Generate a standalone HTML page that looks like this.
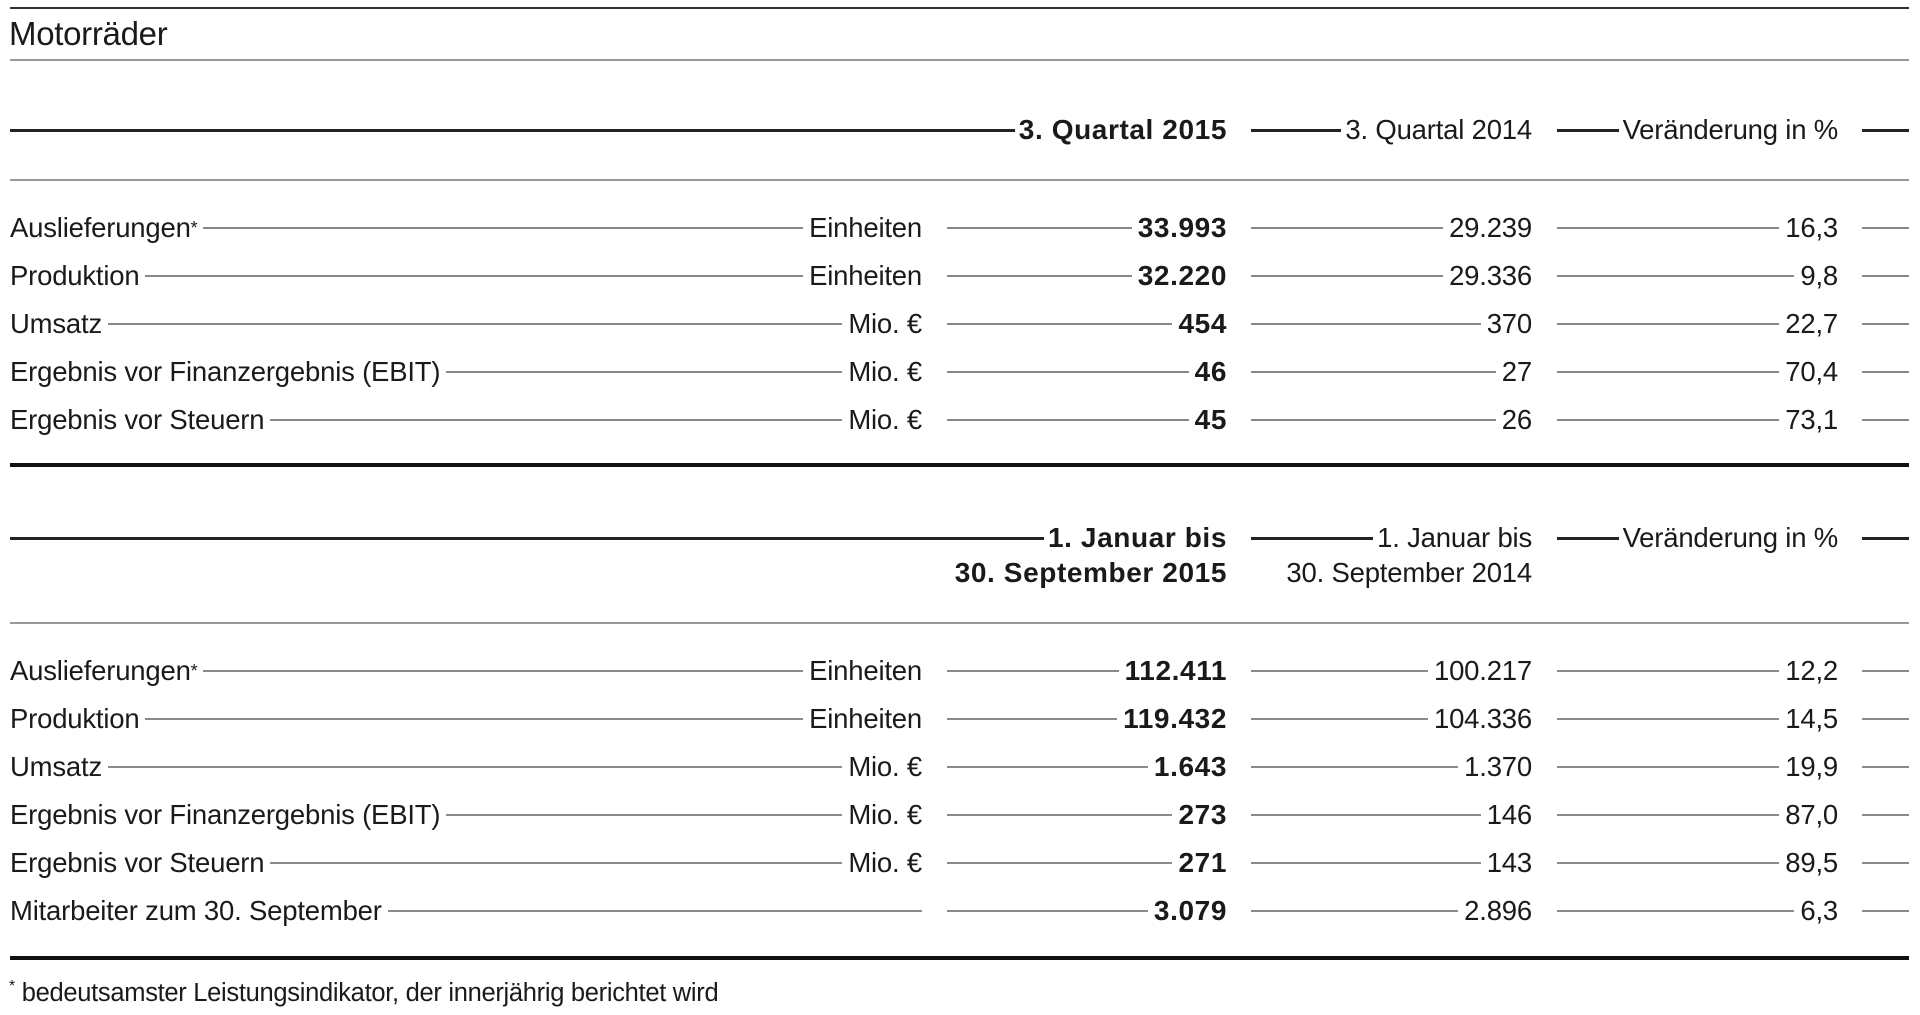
<!DOCTYPE html>
<html><head><meta charset="utf-8"><style>
body{margin:0;background:#fff;width:1920px;height:1015px;position:relative;overflow:hidden;font-family:"Liberation Sans Narrow","Liberation Sans",sans-serif;color:#1a1a1a;font-size:27.5px;letter-spacing:-0.2px}
.h{position:absolute;left:10px;width:1899px}
.row{position:absolute;height:30px;line-height:30px;display:flex;align-items:center;white-space:nowrap}
.l{flex:1;min-width:0;height:1.5px;background:#8a8a8a;margin:0 6px}
.tl{flex:1;min-width:0;height:3px;background:#222;margin:0 4px 0 0}
b{font-weight:bold;font-size:28px;letter-spacing:0.6px}
sup{font-size:18px;vertical-align:10px;line-height:0}
</style></head><body>
<div class="h" style="top:7px;height:2px;background:#333"></div>
<div style="position:absolute;left:9px;top:15px;font-size:33px;line-height:38px;letter-spacing:-0.3px">Motorräder</div>
<div class="h" style="top:59px;height:2px;background:#999"></div>

<div class="row" style="left:10px;width:1217px;top:115px"><div class="tl"></div><b>3. Quartal 2015</b></div>
<div class="row" style="left:1251px;width:281px;top:115px"><div class="tl"></div>3. Quartal 2014</div>
<div class="row" style="left:1557px;width:281px;top:115px"><div class="tl"></div>Veränderung in %</div>
<div class="row" style="left:1862px;width:47px;top:115px"><div class="tl" style="margin:0"></div></div>
<div class="h" style="top:179px;height:2px;background:#999"></div>

<div class="h" style="top:463px;height:4px;background:#111"></div>

<div class="row" style="left:10px;width:1217px;top:523px"><div class="tl"></div><b>1. Januar bis</b></div>
<div class="row" style="left:1251px;width:281px;top:523px"><div class="tl"></div>1. Januar bis</div>
<div class="row" style="left:1557px;width:281px;top:523px"><div class="tl"></div>Veränderung in %</div>
<div class="row" style="left:1862px;width:47px;top:523px"><div class="tl" style="margin:0"></div></div>
<div class="row" style="left:860px;width:367px;top:558px;justify-content:flex-end"><b>30. September 2015</b></div>
<div class="row" style="left:1221px;width:311px;top:558px;justify-content:flex-end">30. September 2014</div>
<div class="h" style="top:622px;height:2px;background:#999"></div>

<div class="h" style="top:956px;height:4px;background:#111"></div>
<div style="position:absolute;left:9px;top:978px;font-size:25.5px;line-height:30px;letter-spacing:-0.3px"><sup style="font-size:16px">*</sup> bedeutsamster Leistungsindikator, der innerjährig berichtet wird</div>

<div class="row" style="left:10px;width:912px;top:213px">Auslieferungen<sup>*</sup><div class="l"></div>Einheiten</div>
<div class="row" style="left:947px;width:280px;top:213px"><div class="l" style="margin-left:0"></div><b>33.993</b></div>
<div class="row" style="left:1251px;width:281px;top:213px"><div class="l" style="margin-left:0"></div>29.239</div>
<div class="row" style="left:1557px;width:281px;top:213px"><div class="l" style="margin-left:0"></div>16,3</div>
<div class="row" style="left:1862px;width:47px;top:213px"><div class="l" style="margin:0"></div></div>

<div class="row" style="left:10px;width:912px;top:261px">Produktion<div class="l"></div>Einheiten</div>
<div class="row" style="left:947px;width:280px;top:261px"><div class="l" style="margin-left:0"></div><b>32.220</b></div>
<div class="row" style="left:1251px;width:281px;top:261px"><div class="l" style="margin-left:0"></div>29.336</div>
<div class="row" style="left:1557px;width:281px;top:261px"><div class="l" style="margin-left:0"></div>9,8</div>
<div class="row" style="left:1862px;width:47px;top:261px"><div class="l" style="margin:0"></div></div>

<div class="row" style="left:10px;width:912px;top:309px">Umsatz<div class="l"></div>Mio. €</div>
<div class="row" style="left:947px;width:280px;top:309px"><div class="l" style="margin-left:0"></div><b>454</b></div>
<div class="row" style="left:1251px;width:281px;top:309px"><div class="l" style="margin-left:0"></div>370</div>
<div class="row" style="left:1557px;width:281px;top:309px"><div class="l" style="margin-left:0"></div>22,7</div>
<div class="row" style="left:1862px;width:47px;top:309px"><div class="l" style="margin:0"></div></div>

<div class="row" style="left:10px;width:912px;top:357px">Ergebnis vor Finanzergebnis (EBIT)<div class="l"></div>Mio. €</div>
<div class="row" style="left:947px;width:280px;top:357px"><div class="l" style="margin-left:0"></div><b>46</b></div>
<div class="row" style="left:1251px;width:281px;top:357px"><div class="l" style="margin-left:0"></div>27</div>
<div class="row" style="left:1557px;width:281px;top:357px"><div class="l" style="margin-left:0"></div>70,4</div>
<div class="row" style="left:1862px;width:47px;top:357px"><div class="l" style="margin:0"></div></div>

<div class="row" style="left:10px;width:912px;top:405px">Ergebnis vor Steuern<div class="l"></div>Mio. €</div>
<div class="row" style="left:947px;width:280px;top:405px"><div class="l" style="margin-left:0"></div><b>45</b></div>
<div class="row" style="left:1251px;width:281px;top:405px"><div class="l" style="margin-left:0"></div>26</div>
<div class="row" style="left:1557px;width:281px;top:405px"><div class="l" style="margin-left:0"></div>73,1</div>
<div class="row" style="left:1862px;width:47px;top:405px"><div class="l" style="margin:0"></div></div>

<div class="row" style="left:10px;width:912px;top:656px">Auslieferungen<sup>*</sup><div class="l"></div>Einheiten</div>
<div class="row" style="left:947px;width:280px;top:656px"><div class="l" style="margin-left:0"></div><b>112.411</b></div>
<div class="row" style="left:1251px;width:281px;top:656px"><div class="l" style="margin-left:0"></div>100.217</div>
<div class="row" style="left:1557px;width:281px;top:656px"><div class="l" style="margin-left:0"></div>12,2</div>
<div class="row" style="left:1862px;width:47px;top:656px"><div class="l" style="margin:0"></div></div>

<div class="row" style="left:10px;width:912px;top:704px">Produktion<div class="l"></div>Einheiten</div>
<div class="row" style="left:947px;width:280px;top:704px"><div class="l" style="margin-left:0"></div><b>119.432</b></div>
<div class="row" style="left:1251px;width:281px;top:704px"><div class="l" style="margin-left:0"></div>104.336</div>
<div class="row" style="left:1557px;width:281px;top:704px"><div class="l" style="margin-left:0"></div>14,5</div>
<div class="row" style="left:1862px;width:47px;top:704px"><div class="l" style="margin:0"></div></div>

<div class="row" style="left:10px;width:912px;top:752px">Umsatz<div class="l"></div>Mio. €</div>
<div class="row" style="left:947px;width:280px;top:752px"><div class="l" style="margin-left:0"></div><b>1.643</b></div>
<div class="row" style="left:1251px;width:281px;top:752px"><div class="l" style="margin-left:0"></div>1.370</div>
<div class="row" style="left:1557px;width:281px;top:752px"><div class="l" style="margin-left:0"></div>19,9</div>
<div class="row" style="left:1862px;width:47px;top:752px"><div class="l" style="margin:0"></div></div>

<div class="row" style="left:10px;width:912px;top:800px">Ergebnis vor Finanzergebnis (EBIT)<div class="l"></div>Mio. €</div>
<div class="row" style="left:947px;width:280px;top:800px"><div class="l" style="margin-left:0"></div><b>273</b></div>
<div class="row" style="left:1251px;width:281px;top:800px"><div class="l" style="margin-left:0"></div>146</div>
<div class="row" style="left:1557px;width:281px;top:800px"><div class="l" style="margin-left:0"></div>87,0</div>
<div class="row" style="left:1862px;width:47px;top:800px"><div class="l" style="margin:0"></div></div>

<div class="row" style="left:10px;width:912px;top:848px">Ergebnis vor Steuern<div class="l"></div>Mio. €</div>
<div class="row" style="left:947px;width:280px;top:848px"><div class="l" style="margin-left:0"></div><b>271</b></div>
<div class="row" style="left:1251px;width:281px;top:848px"><div class="l" style="margin-left:0"></div>143</div>
<div class="row" style="left:1557px;width:281px;top:848px"><div class="l" style="margin-left:0"></div>89,5</div>
<div class="row" style="left:1862px;width:47px;top:848px"><div class="l" style="margin:0"></div></div>

<div class="row" style="left:10px;width:912px;top:896px">Mitarbeiter zum 30. September<div class="l" style="margin-right:0"></div></div>
<div class="row" style="left:947px;width:280px;top:896px"><div class="l" style="margin-left:0"></div><b>3.079</b></div>
<div class="row" style="left:1251px;width:281px;top:896px"><div class="l" style="margin-left:0"></div>2.896</div>
<div class="row" style="left:1557px;width:281px;top:896px"><div class="l" style="margin-left:0"></div>6,3</div>
<div class="row" style="left:1862px;width:47px;top:896px"><div class="l" style="margin:0"></div></div>
</body></html>
